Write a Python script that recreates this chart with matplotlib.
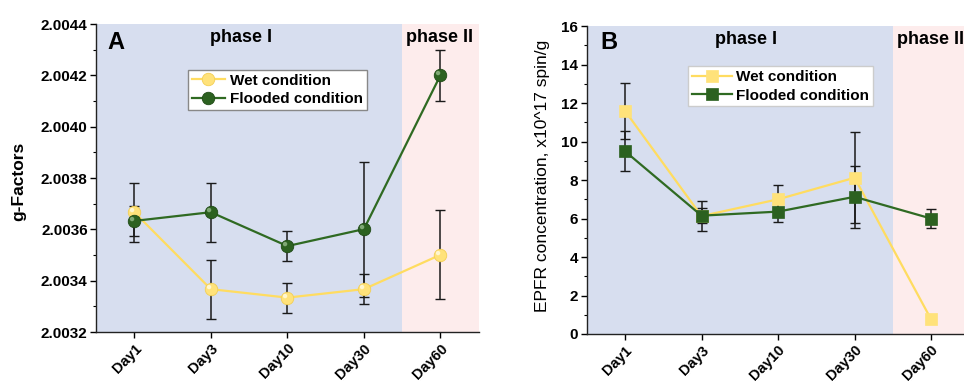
import matplotlib
matplotlib.use("Agg")
import matplotlib.pyplot as plt
from matplotlib.markers import MarkerStyle
from matplotlib.transforms import Affine2D
from matplotlib.ticker import MultipleLocator, FormatStrFormatter

plt.rcParams['font.family'] = ['Liberation Sans', 'DejaVu Sans']

days = ["Day1", "Day3", "Day10", "Day30", "Day60"]

# Panel A: g-factors
g_wet = [2.003667, 2.003367, 2.003334, 2.003367, 2.003501]
g_wet_err = [0.000115, 0.000115, 0.000058, 0.000058, 0.000174]
g_flood = [2.003633, 2.003667, 2.003535, 2.003601, 2.004201]
g_flood_err = [0.000058, 0.000115, 0.000058, 0.000263, 0.000100]

# Panel B: EPFR concentration (x10^17 spin/g)
c_wet = [11.60, 6.13, 7.00, 8.12, 0.76]
c_wet_err = [1.44, 0.78, 0.74, 2.36, 0.10]
c_flood = [9.50, 6.15, 6.36, 7.13, 6.00]
c_flood_err = [1.03, 0.40, 0.55, 1.60, 0.47]

YEL = "#ffdc60"
YEL_M = "#ffe27a"
GRN = "#2f6a22"
GRN_M = "#2c6120"
BG1 = "#d7deef"
BG2 = "#fdecec"

fig = plt.figure(figsize=(9.64, 3.81), dpi=100)
axA = fig.add_axes([0.0996, 0.1286, 0.397, 0.808])
axB = fig.add_axes([0.6086, 0.1234, 0.397, 0.808])

x = list(range(len(days)))
hl = MarkerStyle('o', transform=Affine2D().translate(-0.55, 0.55))


def style(ax):
    ax.set_xlim(-0.5, 4.5)
    ax.axvspan(-0.5, 3.5, color=BG1, zorder=0, lw=0)
    ax.axvspan(3.5, 4.5, color=BG2, zorder=0, lw=0)
    for s in ("top", "right"):
        ax.spines[s].set_visible(False)
    for s in ("left", "bottom"):
        ax.spines[s].set_linewidth(1.0)
        ax.spines[s].set_color("#222222")
    ax.set_xticks(x)
    ax.set_xticklabels(days, rotation=45, ha="right", rotation_mode="anchor",
                       fontsize=10.5, fontweight="bold")
    ax.tick_params(axis="both", which="major", direction="out", length=4, width=1)
    ax.tick_params(axis="y", which="minor", direction="out", length=2.5, width=0.8)
    ax.tick_params(axis="x", which="major", pad=2.5)
    ax.tick_params(axis="y", which="major", pad=2)
    for lab in ax.get_yticklabels():
        lab.set_fontweight("bold")
        lab.set_fontsize(11)


# ---- Panel A ----
ax = axA
ax.errorbar(x, g_flood, yerr=g_flood_err, fmt="none", ecolor="#1a1a1a",
            elinewidth=1.1, capsize=3.5, capthick=1.0, zorder=3)
ax.errorbar(x, g_wet, yerr=g_wet_err, fmt="none", ecolor="#1a1a1a",
            elinewidth=1.1, capsize=3.5, capthick=1.0, zorder=3)
ax.plot(x, g_wet, color=YEL, lw=1.6, marker="o", ms=9,
        mfc=YEL_M, mec="#f3cf55", mew=0.6, zorder=4, label="Wet condition")
ax.plot(x, g_flood, color=GRN, lw=1.6, marker="o", ms=9,
        mfc=GRN_M, mec="#1f4a16", mew=0.6, zorder=5, label="Flooded condition")
ax.plot(x, g_wet, ls="none", marker=hl, ms=3.2, mfc="#fff6cf", mec="none", zorder=6)
ax.plot(x, g_flood, ls="none", marker=hl, ms=3.2, mfc="#7fa874", mec="none", zorder=6)
ax.set_ylim(2.0032, 2.0044)
ax.yaxis.set_major_locator(MultipleLocator(0.0002))
ax.yaxis.set_minor_locator(MultipleLocator(0.0001))
ax.yaxis.set_major_formatter(FormatStrFormatter("%.4f"))
style(ax)
ax.set_ylabel("g-Factors", fontsize=12.5, fontweight="bold")
ax.yaxis.set_label_coords(-0.183, 0.49)
ax.text(0.03, 0.94, "A", transform=ax.transAxes, fontsize=17, fontweight="bold",
        va="center", ha="left")
ax.text(0.99, 0.958, "phase I", transform=ax.get_xaxis_transform(), fontsize=13,
        fontweight="bold", va="center", ha="left")
ax.text(3.55, 0.958, "phase II", transform=ax.get_xaxis_transform(), fontsize=13,
        fontweight="bold", va="center", ha="left")
leg = ax.legend(loc="upper left", bbox_to_anchor=(0.24, 0.852),
                prop={"weight": "bold", "size": 11}, frameon=True, fancybox=False,
                borderpad=0.25, handlelength=2.2, handletextpad=0.3, labelspacing=0.3,
                borderaxespad=0)
leg.get_frame().set_edgecolor("#888888")
leg.get_frame().set_linewidth(1.0)
leg.get_frame().set_alpha(1)

# ---- Panel B ----
ax = axB
ax.errorbar(x, c_flood, yerr=c_flood_err, fmt="none", ecolor="#1a1a1a",
            elinewidth=1.1, capsize=3.5, capthick=1.0, zorder=3)
ax.errorbar(x, c_wet, yerr=c_wet_err, fmt="none", ecolor="#1a1a1a",
            elinewidth=1.1, capsize=3.5, capthick=1.0, zorder=3)
ax.plot(x, c_wet, color=YEL, lw=1.6, marker="s", ms=8.5,
        mfc=YEL_M, mec=YEL_M, mew=0.5, zorder=4, label="Wet condition")
ax.plot(x, c_flood, color=GRN, lw=1.6, marker="s", ms=8.5,
        mfc=GRN_M, mec=GRN_M, mew=0.5, zorder=5, label="Flooded condition")
ax.set_ylim(0, 16)
ax.yaxis.set_major_locator(MultipleLocator(2))
ax.yaxis.set_minor_locator(MultipleLocator(1))
style(ax)
ax.set_ylabel("EPFR concentration, x10^17 spin/g", fontsize=12.5)
ax.yaxis.set_label_coords(-0.096, 0.513)
ax.text(0.037, 0.948, "B", transform=ax.transAxes, fontsize=17, fontweight="bold",
        va="center", ha="left")
ax.text(1.17, 0.958, "phase I", transform=ax.get_xaxis_transform(), fontsize=13,
        fontweight="bold", va="center", ha="left")
ax.text(3.55, 0.958, "phase II", transform=ax.get_xaxis_transform(), fontsize=13,
        fontweight="bold", va="center", ha="left")
leg = ax.legend(loc="upper left", bbox_to_anchor=(0.265, 0.87),
                prop={"weight": "bold", "size": 11}, frameon=True, fancybox=False,
                borderpad=0.25, handlelength=2.6, handletextpad=0.3, labelspacing=0.3,
                borderaxespad=0)
leg.get_frame().set_edgecolor("#cccccc")
leg.get_frame().set_linewidth(1.0)
leg.get_frame().set_alpha(1)

fig.savefig("out.png", dpi=100)
